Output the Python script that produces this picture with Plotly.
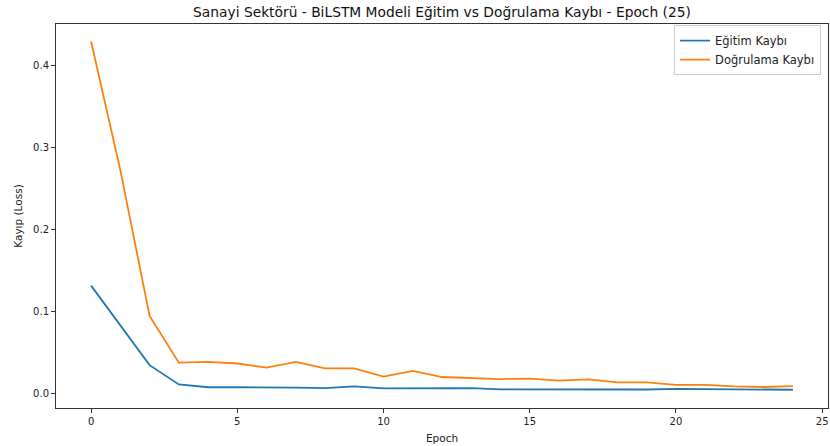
import plotly.graph_objects as go

epochs = list(range(25))
train_loss = [0.131, 0.083, 0.034, 0.0105, 0.007, 0.007, 0.007, 0.0065, 0.006, 0.008,
              0.0057, 0.006, 0.0063, 0.006, 0.0045, 0.0045, 0.0045, 0.0043, 0.004, 0.0043,
              0.005, 0.0047, 0.0043, 0.004, 0.004]
val_loss = [0.429, 0.272, 0.094, 0.037, 0.038, 0.036, 0.031, 0.038, 0.030, 0.030,
            0.020, 0.027, 0.0195, 0.018, 0.017, 0.0175, 0.015, 0.0167, 0.013, 0.013,
            0.010, 0.010, 0.008, 0.0073, 0.0085]
y_ticks = [0.0, 0.1, 0.2, 0.3, 0.4]
x_ticks = [0, 5, 10, 15, 20, 25]

FONT = "DejaVu Sans"

fig = go.Figure()
fig.add_trace(go.Scatter(x=epochs, y=train_loss, mode="lines", name="Eğitim Kaybı",
                         line=dict(color="#1f77b4", width=1.8)))
fig.add_trace(go.Scatter(x=epochs, y=val_loss, mode="lines", name="Doğrulama Kaybı",
                         line=dict(color="#ff7f0e", width=1.8)))

axis_common = dict(showline=True, mirror=True, linecolor="#333333", linewidth=1,
                   ticks="outside", ticklen=4, tickcolor="#333333", showgrid=False,
                   zeroline=False, automargin=False,
                   tickfont=dict(family=FONT, size=10, color="#222"))

fig.update_layout(
    width=830, height=446,
    paper_bgcolor="white", plot_bgcolor="white",
    margin=dict(l=56, r=2, t=24, b=38),
    title=dict(text="Sanayi Sektörü - BiLSTM Modeli Eğitim vs Doğrulama Kaybı - Epoch (25)",
               x=0.5, xref="paper", xanchor="center", y=0.973, yanchor="middle",
               font=dict(family=FONT, size=13.8, color="#111")),
    xaxis=dict(range=[-1.2, 25.2], tickvals=x_ticks,
               title=dict(text="Epoch", font=dict(family=FONT, size=10.5, color="#222"), standoff=8),
               **axis_common),
    yaxis=dict(range=[-0.0183, 0.4503], tickvals=y_ticks, tickformat=".1f",
               title=dict(text="Kayıp (Loss)", font=dict(family=FONT, size=10.5, color="#222"), standoff=8),
               **axis_common),
    legend=dict(x=0.991, y=0.997, xanchor="right", yanchor="top",
                bgcolor="rgba(255,255,255,0.9)", bordercolor="#cccccc", borderwidth=1,
                font=dict(family=FONT, size=11.5, color="#222"),
                tracegroupgap=0),
    showlegend=True,
)

fig.write_html("out.html", config={"displayModeBar": False},
               post_script="document.body.style.margin='0';")
